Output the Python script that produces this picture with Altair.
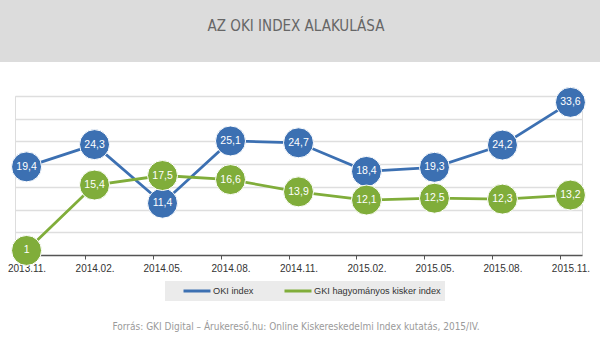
import altair as alt
import pandas as pd

# ---- data ----
dates = ["2013.11.", "2014.02.", "2014.05.", "2014.08.", "2014.11.",
         "2015.02.", "2015.05.", "2015.08.", "2015.11."]
oki = [19.4, 24.3, 11.4, 25.1, 24.7, 18.4, 19.3, 24.2, 33.6]
gki = [1, 15.4, 17.5, 16.6, 13.9, 12.1, 12.5, 12.3, 13.2]
series_names = ["OKI index", "GKI hagyományos kisker index"]
series_colors = ["#3c70b2", "#80ad3a"]
title_text = "AZ OKI INDEX ALAKULÁSA"
source_text = "Forrás: GKI Digital – Árukereső.hu: Online Kiskereskedelmi Index kutatás, 2015/IV."
grid_values = [5, 10, 15, 20, 25, 30, 35]

COND = "DejaVu Sans Condensed, Roboto Condensed, Liberation Sans Narrow, Roboto, sans-serif"


def fmt(v):
    return ("%g" % v).replace(".", ",")


rows = []
for name, vals in zip(series_names, [oki, gki]):
    for d, v in zip(dates, vals):
        rows.append({"date": d, "value": v, "series": name, "label": fmt(v)})
df = pd.DataFrame(rows)

W, H = 567, 159
PAD_L, PAD_T = 15, 96

x_enc = alt.X("date:N", sort=dates,
              scale=alt.Scale(type="point", padding=0.17),
              axis=alt.Axis(title=None, labelAngle=0, labelFont="Liberation Sans",
                            labelFontSize=10, labelColor="#333333", labelPadding=4,
                            domainColor="#555555", domainWidth=1.5,
                            tickColor="#555555", tickSize=4, tickWidth=1,
                            tickOffset=-10, labelOffset=10, grid=False))
y_enc = alt.Y("value:Q", scale=alt.Scale(domain=[0, 35], nice=False),
              axis=alt.Axis(title=None, labels=False, ticks=False, domain=False,
                            values=grid_values, grid=True, gridColor="#dedede",
                            gridWidth=1.6))
color_enc = alt.Color("series:N",
                      scale=alt.Scale(domain=series_names, range=series_colors),
                      legend=alt.Legend(title=None, orient="none", legendX=150,
                                        legendY=185, direction="horizontal",
                                        fillColor="#ebebeb", padding=4,
                                        symbolType="stroke", symbolSize=729,
                                        symbolStrokeWidth=3, symbolOffset=13,
                                        clipHeight=12,
                                        columnPadding=16, labelOffset=1,
                                        labelFont="Liberation Sans",
                                        labelFontSize=9.2, labelColor="#333333"))

layers = []
for name in series_names:
    base = alt.Chart(df).transform_filter(alt.datum.series == name)
    layers.append(base.mark_line(strokeWidth=2.8).encode(x=x_enc, y=y_enc, color=color_enc))
    layers.append(base.mark_circle(size=900, opacity=1, stroke="white", strokeWidth=1)
                  .encode(x=x_enc, y=y_enc, color=color_enc))
    layers.append(base.mark_text(color="white", font="Liberation Sans", fontSize=10.5)
                  .encode(x=x_enc, y=y_enc, text="label:N"))

deco = pd.DataFrame({"t": [title_text], "s": [source_text]})
band = alt.Chart(deco).mark_rect(color="#dcdcdc").encode(
    x=alt.value(-PAD_L), x2=alt.value(600 - PAD_L),
    y=alt.value(-PAD_T), y2=alt.value(62 - PAD_T))
title = alt.Chart(deco).mark_text(font=COND, fontSize=15,
                                  color="#666666", baseline="middle").encode(
    x=alt.value(296 - PAD_L), y=alt.value(26 - PAD_T), text="t:N")
source = alt.Chart(deco).mark_text(font=COND, fontSize=10,
                                   color="#9a9a9a", baseline="middle").encode(
    x=alt.value(296 - PAD_L), y=alt.value(327 - PAD_T), text="s:N")

chart = alt.layer(band, title, source, *layers).properties(
    width=W, height=H,
    padding={"left": PAD_L, "top": PAD_T, "right": 600 - PAD_L - W, "bottom": 351 - PAD_T - H},
    autosize=alt.AutoSizeParams(type="none"),
).configure_view(stroke=None).configure(background="white")

chart.save("out.html", embed_options={"renderer": "svg", "actions": False})
